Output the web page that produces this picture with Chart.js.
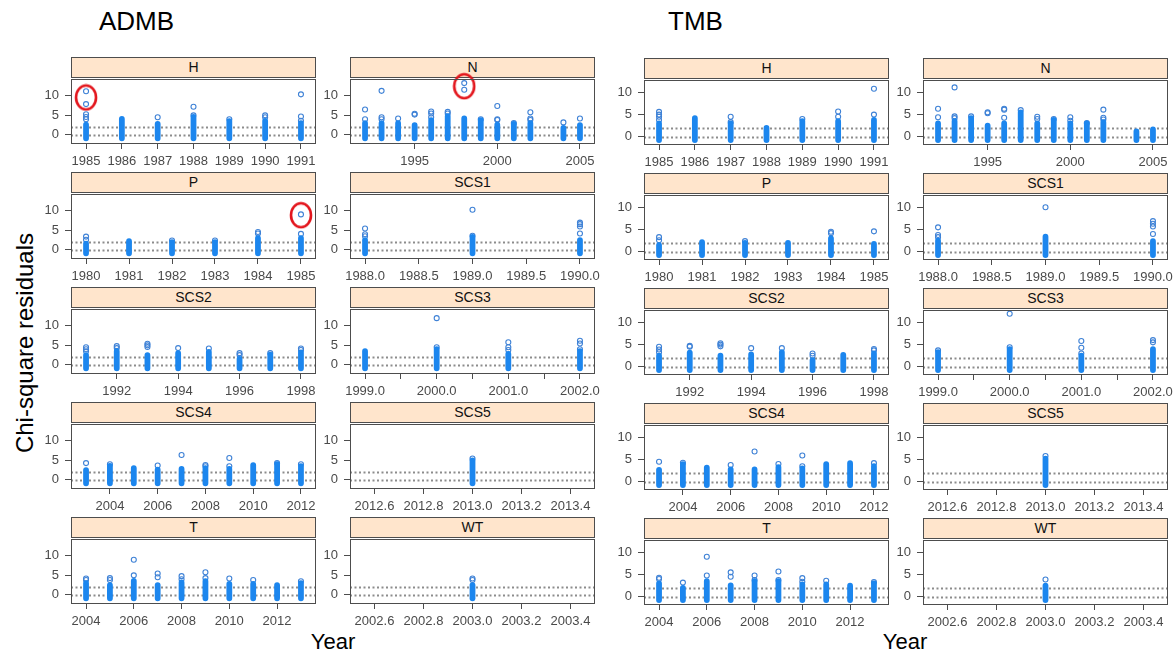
<!DOCTYPE html>
<html lang="en">
<head>
<meta charset="UTF-8">
<title>Chi-square residuals by fleet: ADMB vs TMB</title>
<script src="https://cdn.jsdelivr.net/npm/chart.js"></script>
<style>
    body {
        margin: 0;
        background: #fff;
        font-family: 'Liberation Sans', Arial, Helvetica, sans-serif;
    }
    #page {
        position: relative;
        width: 1173px;
        height: 657px;
        overflow: hidden;
    }
    .strip {
        position: absolute;
        box-sizing: border-box;
        background: #ffe5cc;
        border: 1px solid #4d4d4d;
        text-align: center;
        font-size: 14px;
        color: #111;
        z-index: 1;
    }
    .big {
        position: absolute;
        color: #000;
        white-space: nowrap;
    }
    canvas {
        position: absolute;
        z-index: 2;
    }
</style>
</head>
<body>
<div id="page">
    <div class="big" style="left:99px; top:6px; font-size:26px;">ADMB</div>
    <div class="big" style="left:668px; top:6px; font-size:26px;">TMB</div>
    <div class="big" style="left:25px; top:343px; font-size:24px; transform: translate(-50%, -50%) rotate(-90deg);">Chi-square residuals</div>
    <div class="big" style="left:333px; top:642px; font-size:22px; transform: translate(-50%, -50%);">Year</div>
    <div class="big" style="left:905px; top:642px; font-size:22px; transform: translate(-50%, -50%);">Year</div>
</div>

<script>
    // panels, in the order lattice lays them out (2 per row)
    const fleets = ['H', 'N', 'P', 'SCS1', 'SCS2', 'SCS3', 'SCS4', 'SCS5', 'T', 'WT'];

    // years with residuals in each fleet
    const yrsH = [1985, 1986, 1987, 1988, 1989, 1990, 1991];
    const yrsN = [1992, 1993, 1994, 1995, 1996, 1997, 1998, 1999, 2000, 2001, 2002, 2004, 2005];
    const yrsP = [1980, 1981, 1982, 1983, 1984, 1985];
    const yrsSCS1 = [1988, 1989, 1990];
    const yrsSCS2 = [1991, 1992, 1993, 1994, 1995, 1996, 1997, 1998];
    const yrsSCS3 = [1999, 2000, 2001, 2002];
    const yrsSCS4 = [2003, 2004, 2005, 2006, 2007, 2008, 2009, 2010, 2011, 2012];
    const yrsSCS5 = [2013];
    const yrsT = [2004, 2005, 2006, 2007, 2008, 2009, 2010, 2011, 2012, 2013];
    const yrsWT = [2003];

    // x tick positions and their labels
    const ticksH = [1985, 1986, 1987, 1988, 1989, 1990, 1991];
    const labelsH = ['1985', '1986', '1987', '1988', '1989', '1990', '1991'];
    const ticksN = [1995, 2000, 2005];
    const labelsN = ['1995', '2000', '2005'];
    const ticksP = [1980, 1981, 1982, 1983, 1984, 1985];
    const labelsP = ['1980', '1981', '1982', '1983', '1984', '1985'];
    const ticksSCS1 = [1988, 1988.5, 1989, 1989.5, 1990];
    const labelsSCS1 = ['1988.0', '1988.5', '1989.0', '1989.5', '1990.0'];
    const ticksSCS2 = [1992, 1994, 1996, 1998];
    const labelsSCS2 = ['1992', '1994', '1996', '1998'];
    const ticksSCS3 = [1999, 1999.5, 2000, 2000.5, 2001, 2001.5, 2002];
    const labelsSCS3 = ['1999.0', '', '2000.0', '', '2001.0', '', '2002.0'];
    const ticksSCS4 = [2004, 2006, 2008, 2010, 2012];
    const labelsSCS4 = ['2004', '2006', '2008', '2010', '2012'];
    const ticksSCS5 = [2012.6, 2012.8, 2013.0, 2013.2, 2013.4];
    const labelsSCS5 = ['2012.6', '2012.8', '2013.0', '2013.2', '2013.4'];
    const ticksT = [2004, 2006, 2008, 2010, 2012];
    const labelsT = ['2004', '2006', '2008', '2010', '2012'];
    const ticksWT = [2002.6, 2002.8, 2003.0, 2003.2, 2003.4];
    const labelsWT = ['2002.6', '2002.8', '2003.0', '2003.2', '2003.4'];

    const yTicks = [0, 5, 10];
    const refLines = [0, 2];

    // ADMB: top of the solid run of residuals in each year, and the loose points above it
    const admbTopH = [2.6, 4.1, 2.8, 4.6, 3.5, 3.6, 3.0];
    const admbOutH = [[4.0, 4.6, 5.3, 7.9, 11.2], [], [4.5], [5.0, 7.2], [4.0], [4.5, 5.0], [3.6, 4.7, 10.4]];
    const admbTopN = [3.0, 3.0, 3.0, 2.5, 3.8, 4.8, 4.2, 3.8, 2.6, 2.8, 3.0, 1.8, 2.5];
    const admbOutN = [[4.0, 6.5], [4.0, 4.5, 11.3], [4.2], [5.2, 5.4], [4.5, 5.5, 6.0], [5.5, 5.9], [11.6, 13.3], [4.0],
                      [3.8, 4.0, 7.4], [3.0], [3.8, 4.2, 5.8], [3.2], [4.2]];
    const admbTopP = [1.6, 2.2, 2.0, 2.0, 3.0, 3.0];
    const admbOutP = [[2.6, 3.4], [], [2.4], [2.4], [4.2, 4.6], [4.1, 9.1]];
    const admbTopSCS1 = [2.5, 3.3, 2.5];
    const admbOutSCS1 = [[3.5, 4.0, 5.5], [3.6, 10.3], [4.2, 6.0, 6.6, 7.0]];
    const admbTopSCS2 = [2.5, 3.5, 2.5, 3.0, 3.3, 1.5, 2.6, 3.2];
    const admbOutSCS2 = [[3.5, 4.0, 4.5], [4.3, 4.8], [4.6, 5.0, 5.4], [4.3], [4.2], [2.5, 3.0], [3.0], [3.8, 4.2]];
    const admbTopSCS3 = [3.5, 4.0, 2.8, 3.5];
    const admbOutSCS3 = [[], [4.5, 12.0], [3.8, 4.5, 5.8], [4.0, 5.5, 6.2]];
    const admbTopSCS4 = [2.5, 3.6, 3.0, 2.6, 2.8, 3.0, 2.8, 3.8, 4.0, 3.5];
    const admbOutSCS4 = [[4.3], [4.0], [], [3.7], [6.4], [3.5, 3.8], [3.5, 5.6], [], [4.3], [4.0]];
    const admbTopSCS5 = [5.0];
    const admbOutSCS5 = [[5.5]];
    const admbTopT = [3.0, 2.5, 3.6, 2.5, 3.2, 3.5, 2.8, 2.8, 2.5, 3.0];
    const admbOutT = [[3.8, 4.2], [3.8, 4.3], [5.0, 9.0], [4.5, 5.5], [4.0, 4.8], [4.3, 5.8], [4.2], [3.8], [], [3.5]];
    const admbTopWT = [2.5];
    const admbOutWT = [[3.8, 4.2]];

    // TMB
    const tmbTopH = [3.0, 4.2, 3.0, 2.0, 3.5, 3.5, 3.8];
    const tmbOutH = [[3.8, 4.5, 5.0, 5.6], [], [3.3, 4.5], [], [4.0], [4.5, 5.7], [5.0, 10.8]];
    const tmbTopN = [3.0, 3.5, 4.2, 2.5, 3.0, 5.5, 3.0, 3.8, 3.0, 3.0, 3.3, 1.2, 1.7];
    const tmbOutN = [[4.4, 6.3], [4.2, 4.6, 11.1], [4.6], [5.3, 5.5], [4.3, 6.1, 6.3], [6.0], [4.0, 4.5], [4.0],
                     [3.6, 4.4], [3.1], [3.9, 4.3, 6.1], [], []];
    const tmbTopP = [1.5, 2.2, 2.0, 2.0, 3.0, 1.8];
    const tmbOutP = [[2.6, 3.3], [], [2.4], [], [4.2, 4.5], [4.6]];
    const tmbTopSCS1 = [2.5, 3.4, 2.4];
    const tmbOutSCS1 = [[3.3, 3.8, 5.5], [10.0], [4.0, 5.7, 6.3, 6.9]];
    const tmbTopSCS2 = [2.5, 3.2, 2.5, 2.8, 3.3, 1.5, 2.7, 3.0];
    const tmbOutSCS2 = [[3.3, 3.9, 4.5], [4.5, 4.7], [4.6, 5.0, 5.3], [4.2], [4.2], [2.5, 3.0], [], [3.7, 4.0]];
    const tmbTopSCS3 = [3.3, 4.0, 2.5, 4.0];
    const tmbOutSCS3 = [[3.7], [4.4, 11.9], [3.0, 4.3, 5.8], [5.5, 6.0]];
    const tmbTopSCS4 = [2.7, 4.0, 3.2, 2.8, 2.8, 3.3, 3.0, 4.0, 4.2, 3.5];
    const tmbOutSCS4 = [[4.5], [4.3], [], [3.8], [6.8], [4.0], [3.5, 5.9], [], [], [4.2]];
    const tmbTopSCS5 = [5.2];
    const tmbOutSCS5 = [[5.8]];
    const tmbTopT = [3.0, 2.0, 3.5, 2.6, 3.5, 3.5, 2.8, 2.8, 2.5, 3.0];
    const tmbOutT = [[4.0, 4.3], [3.2], [4.8, 9.0], [4.5, 5.5], [3.8, 4.8], [3.8, 5.7], [3.4, 4.2], [3.6], [], [3.3]];
    const tmbTopWT = [2.5];
    const tmbOutWT = [[3.9]];

    // lowest residual, common to every column of a method
    const admbLow = -0.9;
    const tmbLow = -0.7;
    // y limits of each method's panels
    const admbYLim = [-2.1, 14.4];
    const tmbYLim = [-1.6, 12.8];

    // red rings drawn over the ADMB panels
    const markFleets = ['H', 'N', 'P'];
    const markYears = [1985, 1998, 1985];
    const markValues = [9.6, 12.5, 8.9];

    // ---- layout ----
    const colLeft = { ADMB: [71, 350], TMB: [644, 923] };
    const stripTop0 = { ADMB: 57, TMB: 58 };
    const panelW = 245, stripH = 20, plotH = 66, rowStep = 115;
    const axisW = 36, axisH = 28, padT = 12, padR = 28;

    const denseBlue = '#1c86ee';
    const ringBlue = '#3f82d6';
    const lineGray = '#4d4d4d';

    const fleetYears = [yrsH, yrsN, yrsP, yrsSCS1, yrsSCS2, yrsSCS3, yrsSCS4, yrsSCS5, yrsT, yrsWT];
    const fleetTicks = [ticksH, ticksN, ticksP, ticksSCS1, ticksSCS2, ticksSCS3, ticksSCS4, ticksSCS5, ticksT, ticksWT];
    const fleetLabels = [labelsH, labelsN, labelsP, labelsSCS1, labelsSCS2, labelsSCS3, labelsSCS4, labelsSCS5, labelsT, labelsWT];
    const methods = {
        ADMB: {
            top: [admbTopH, admbTopN, admbTopP, admbTopSCS1, admbTopSCS2, admbTopSCS3, admbTopSCS4, admbTopSCS5, admbTopT, admbTopWT],
            out: [admbOutH, admbOutN, admbOutP, admbOutSCS1, admbOutSCS2, admbOutSCS3, admbOutSCS4, admbOutSCS5, admbOutT, admbOutWT],
            low: admbLow, ylim: admbYLim, marks: true
        },
        TMB: {
            top: [tmbTopH, tmbTopN, tmbTopP, tmbTopSCS1, tmbTopSCS2, tmbTopSCS3, tmbTopSCS4, tmbTopSCS5, tmbTopT, tmbTopWT],
            out: [tmbOutH, tmbOutN, tmbOutP, tmbOutSCS1, tmbOutSCS2, tmbOutSCS3, tmbOutSCS4, tmbOutSCS5, tmbOutT, tmbOutWT],
            low: tmbLow, ylim: tmbYLim, marks: false
        }
    };

    Chart.defaults.font.family = "'Liberation Sans', Arial, Helvetica, sans-serif";
    Chart.defaults.font.size = 13;
    Chart.defaults.color = '#4a4a4a';

    // hand-drawn looking red ellipse used as the point style of the marks
    const ring = document.createElement('canvas');
    ring.width = 24;
    ring.height = 28;
    (function () {
        const c = ring.getContext('2d');
        c.strokeStyle = '#e3161d';
        c.lineWidth = 2.6;
        c.beginPath();
        c.ellipse(12, 14, 10, 12, 0, 0, Math.PI * 2);
        c.stroke();
    })();

    // dotted reference lines under the points, box round the panel on top
    const panelDecor = {
        id: 'panelDecor',
        beforeDatasetsDraw(chart) {
            const { ctx, chartArea: a } = chart;
            const y = chart.scales.y;
            ctx.save();
            ctx.strokeStyle = '#8c8c8c';
            ctx.lineWidth = 1.8;
            ctx.setLineDash([2, 2.5]);
            refLines.forEach(v => {
                const py = Math.round(y.getPixelForValue(v)) + 0.5;
                ctx.beginPath();
                ctx.moveTo(a.left, py);
                ctx.lineTo(a.right, py);
                ctx.stroke();
            });
            ctx.restore();
        },
        afterDraw(chart) {
            const { ctx, chartArea: a } = chart;
            ctx.save();
            ctx.strokeStyle = lineGray;
            ctx.lineWidth = 1;
            ctx.strokeRect(Math.round(a.left) + 0.5, Math.round(a.top) + 0.5,
                Math.round(a.right - a.left) - 1, Math.round(a.bottom - a.top));
            ctx.restore();
        }
    };

    const page = document.getElementById('page');

    function buildPanel(name, i) {
        const m = methods[name];
        const fleet = fleets[i];
        const row = Math.floor(i / 2), col = i % 2;
        const left = colLeft[name][col];
        const stripTop = stripTop0[name] + row * rowStep;
        const plotTop = stripTop + stripH;

        const strip = document.createElement('div');
        strip.className = 'strip';
        strip.style.left = left + 'px';
        strip.style.top = stripTop + 'px';
        strip.style.width = panelW + 'px';
        strip.style.height = (stripH + 1) + 'px';
        strip.style.lineHeight = (stripH - 1) + 'px';
        strip.textContent = fleet;
        page.appendChild(strip);

        const cv = document.createElement('canvas');
        cv.width = axisW + panelW + padR;
        cv.height = padT + plotH + axisH;
        cv.style.left = (left - axisW) + 'px';
        cv.style.top = (plotTop - padT) + 'px';
        page.appendChild(cv);

        const yrs = fleetYears[i];
        const top = m.top[i];
        const out = m.out[i];

        // the solid runs: one stroke per year, broken by a gap point
        const dense = [];
        yrs.forEach((yr, k) => {
            dense.push({ x: yr, y: m.low }, { x: yr, y: top[k] }, { x: yr, y: null });
        });
        const loose = [];
        yrs.forEach((yr, k) => out[k].forEach(v => loose.push({ x: yr, y: v })));

        const marks = [];
        if (m.marks) {
            markFleets.forEach((f, k) => {
                if (f === fleet) marks.push({ x: markYears[k], y: markValues[k] });
            });
        }

        // lattice pads the x range by 7%, a lone year gets +-0.5
        const span = yrs[yrs.length - 1] - yrs[0];
        const pad = span > 0 ? span * 0.07 : 0.5;
        const ticks = fleetTicks[i];
        const labels = fleetLabels[i];

        new Chart(cv, {
            type: 'scatter',
            data: {
                datasets: [
                    {
                        data: dense,
                        showLine: true,
                        spanGaps: false,
                        borderColor: denseBlue,
                        borderWidth: 5.8,
                        borderCapStyle: 'round',
                        pointRadius: 0
                    },
                    {
                        data: loose,
                        pointStyle: 'circle',
                        pointRadius: 2.5,
                        pointBorderWidth: 1.1,
                        borderColor: ringBlue,
                        backgroundColor: 'rgba(255,255,255,0)'
                    },
                    {
                        data: marks,
                        pointStyle: ring,
                        pointRadius: 12,
                        clip: false
                    }
                ]
            },
            options: {
                responsive: false,
                animation: false,
                events: [],
                layout: { padding: { top: padT, right: padR, left: 0, bottom: 0 } },
                plugins: {
                    legend: { display: false },
                    tooltip: { enabled: false }
                },
                scales: {
                    x: {
                        type: 'linear',
                        min: yrs[0] - pad,
                        max: yrs[yrs.length - 1] + pad,
                        afterFit: s => { s.height = axisH; },
                        afterBuildTicks: s => { s.ticks = ticks.map(v => ({ value: v })); },
                        ticks: {
                            autoSkip: false,
                            maxRotation: 0,
                            padding: 5,
                            callback: (v, k) => labels[k]
                        },
                        grid: { drawOnChartArea: false, tickLength: 6, color: lineGray },
                        border: { display: false }
                    },
                    y: {
                        min: m.ylim[0],
                        max: m.ylim[1],
                        afterFit: s => { s.width = axisW; },
                        afterBuildTicks: s => { s.ticks = yTicks.map(v => ({ value: v })); },
                        ticks: {
                            autoSkip: false,
                            padding: 6,
                            callback: v => String(v)
                        },
                        grid: { drawOnChartArea: false, tickLength: 6, color: lineGray },
                        border: { display: false }
                    }
                }
            },
            plugins: [panelDecor]
        });
    }

    ['ADMB', 'TMB'].forEach(name => fleets.forEach((f, i) => buildPanel(name, i)));
</script>
</body>
</html>
